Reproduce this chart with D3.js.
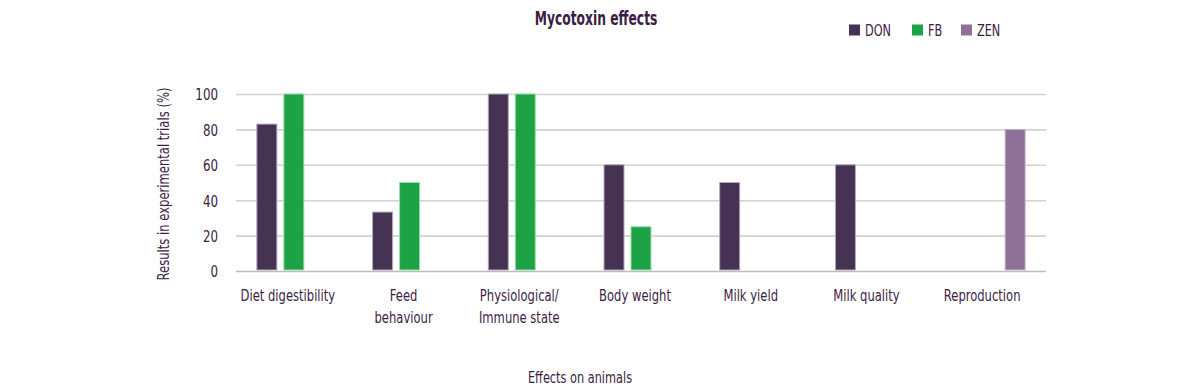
<!DOCTYPE html>
<html>
<head>
<meta charset="utf-8">
<script src="https://cdn.jsdelivr.net/npm/d3@7"></script>
<style>
  html, body { margin: 0; padding: 0; background: #fff; }
  svg { display: block; }
  text { font-family: "DejaVu Sans Condensed", "Liberation Sans Narrow", sans-serif; fill: #3b1d44; }
</style>
</head>
<body>
<svg id="chart" width="1200" height="392"></svg>
<script>
const categories = ["Diet digestibility", "Feed\nbehaviour", "Physiological/\nImmune state", "Body weight", "Milk yield", "Milk quality", "Reproduction"];
const seriesNames = ["DON", "FB", "ZEN"];
const donValues = [83, 33.3, 100, 60, 50, 60, null];
const fbValues = [100, 50, 100, 25, null, null, null];
const zenValues = [null, null, null, null, null, null, 80];
const yTicks = [0, 20, 40, 60, 80, 100];
const colors = { DON: "#463354", FB: "#1da345", ZEN: "#8f7198" };
const strokes = { DON: "#b3a8b8", FB: "#9cdcae", ZEN: "#c7b5cc" };

const seriesValues = { DON: donValues, FB: fbValues, ZEN: zenValues };

const svg = d3.select("#chart");
const margin = { left: 236, right: 1046, top: 94, bottom: 271 };

const x = d3.scaleBand().domain(categories).range([margin.left, margin.right]).padding(0);
const inner = d3.scaleBand().domain(seriesNames).range([-37.5, 37.5]).paddingInner(6 / 27).paddingOuter(0);
const y = d3.scaleLinear().domain([0, 100]).range([margin.bottom, margin.top]);

// condensed text helper
function ctext(parent, px, py, sx, size, anchor, str, weight) {
  const g = parent.append("g").attr("transform", `translate(${px},${py}) scale(${sx},1)`);
  const t = g.append("text").attr("text-anchor", anchor).attr("font-size", size).text(str);
  if (weight) t.attr("font-weight", weight);
  return t;
}

// gridlines
const grid = svg.append("g")
  .attr("transform", `translate(${margin.left},0)`)
  .call(d3.axisLeft(y).tickValues(yTicks).tickSize(-(margin.right - margin.left)).tickFormat(""));
grid.select(".domain").remove();
grid.selectAll(".tick line").attr("stroke", "#d2d2d2").attr("stroke-width", 1.6);
grid.selectAll(".tick").filter(d => d === 0).select("line").attr("stroke", "#bdbdbd");

// y tick labels
const yAxis = svg.append("g")
  .attr("transform", `translate(218,0)`)
  .call(d3.axisLeft(y).tickValues(yTicks).tickSize(0).tickPadding(0));
yAxis.select(".domain").remove();
yAxis.selectAll("text")
  .attr("font-size", 16.5)
  .style("font-family", "'DejaVu Sans Condensed', sans-serif")
  .attr("fill", "#3b1d44")
  .attr("dy", "0.36em")
  .attr("transform", "scale(0.8,1)");

// bars
seriesNames.forEach(s => {
  const vals = seriesValues[s];
  svg.append("g").selectAll("rect")
    .data(categories.map((c, i) => ({ c, v: vals[i] })).filter(d => d.v != null))
    .join("rect")
    .attr("x", d => x(d.c) + x.bandwidth() / 2 + inner(s) + 0.5)
    .attr("width", inner.bandwidth() - 1)
    .attr("y", d => y(d.v))
    .attr("height", d => y(0) - y(d.v) - 1)
    .attr("fill", colors[s])
    .attr("stroke", strokes[s])
    .attr("stroke-width", 1);
});

// x category labels
const xl = svg.append("g");
categories.forEach(c => {
  const lines = c.split("\n");
  const cx = x(c) + x.bandwidth() / 2 - 6;
  const g = xl.append("g").attr("transform", `translate(${cx},301) scale(0.83,1)`);
  const t = g.append("text").attr("text-anchor", "middle").attr("font-size", 15.5);
  lines.forEach((ln, j) => {
    t.append("tspan").attr("x", 0).attr("dy", j === 0 ? 0 : 22).text(ln);
  });
});

// title
ctext(svg, 596, 25, 0.72, 19, "middle", "Mycotoxin effects", "bold");

// y axis title
const yt = svg.append("g").attr("transform", `translate(169,184) rotate(-90) scale(0.86,1)`);
yt.append("text").attr("text-anchor", "middle").attr("font-size", 15).text("Results in experimental trials (%)");

// x axis title
ctext(svg, 580, 383, 0.84, 15, "middle", "Effects on animals");

// legend
const legendX = [849, 912, 961];
const lg = svg.append("g");
seriesNames.forEach((s, i) => {
  lg.append("rect").attr("x", legendX[i]).attr("y", 24.5).attr("width", 11).attr("height", 11).attr("fill", colors[s]);
  ctext(lg, legendX[i] + 16, 36, 0.76, 16.5, "start", s);
});
</script>
</body>
</html>
